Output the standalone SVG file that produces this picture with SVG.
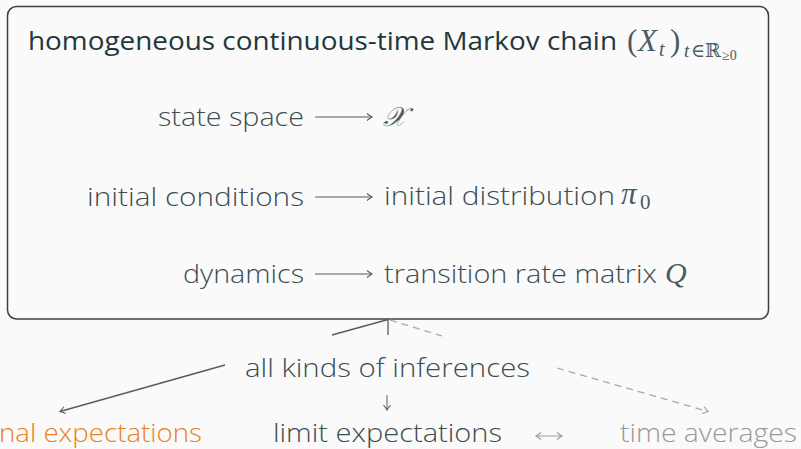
<svg xmlns="http://www.w3.org/2000/svg" width="801" height="449" viewBox="0 0 801 449">
<style>
.bg{fill:#fafafa}
.box{fill:#fafafa;stroke:#3f3f3f;stroke-width:1.5}
.ttl{font-family:"Open Sans","Noto Sans","Liberation Sans",sans-serif;font-size:26px;fill:#23373b;font-weight:400}
.txt{font-family:"Open Sans","Noto Sans","Liberation Sans",sans-serif;font-size:26px;fill:#3b4d51;font-weight:300}
.math{font-family:"Liberation Serif","DejaVu Serif",serif;fill:#4a5c60;font-weight:400}
.it{font-style:italic}
.orange{fill:#eb811b}
.gray{fill:#999}
.ln{fill:none;stroke:#4f5f63;stroke-width:1.3}
.dash{fill:none;stroke:#a8a8a8;stroke-width:1.3;stroke-dasharray:7 5}
.ar{fill:none;stroke:#4f5f63;stroke-width:1}
.arg{fill:none;stroke:#9a9a9a;stroke-width:1}
</style>
<defs>
<marker id="tip" markerUnits="userSpaceOnUse" markerWidth="12" markerHeight="12" refX="0" refY="0" viewBox="-8 -6 10 12" orient="auto">
<path d="M-5,-3.5 Q-1.5,-0.8 0,0 Q-1.5,0.8 -5,3.5" fill="none" stroke="#4f5f63" stroke-width="1.1"/>
</marker>
<marker id="tipg" markerUnits="userSpaceOnUse" markerWidth="12" markerHeight="12" refX="0" refY="0" viewBox="-8 -6 10 12" orient="auto">
<path d="M-5,-3.5 Q-1.5,-0.8 0,0 Q-1.5,0.8 -5,3.5" fill="none" stroke="#9a9a9a" stroke-width="1.1"/>
</marker>
<marker id="tipgs" markerUnits="userSpaceOnUse" markerWidth="12" markerHeight="12" refX="0" refY="0" viewBox="-8 -6 10 12" orient="auto-start-reverse">
<path d="M-5,-3.5 Q-1.5,-0.8 0,0 Q-1.5,0.8 -5,3.5" fill="none" stroke="#9a9a9a" stroke-width="1.1"/>
</marker>
</defs>
<rect class="bg" x="0" y="0" width="801" height="449"/>

<g id="chain">
<rect class="box" x="7.5" y="6.5" width="761" height="312.5" rx="9"/>
<text class="ttl" x="28" y="50" textLength="589" lengthAdjust="spacingAndGlyphs">homogeneous continuous-time Markov chain</text>
<text class="math" font-size="31"><tspan x="627" y="51">(</tspan><tspan class="it" x="638" y="51">X</tspan><tspan class="it" x="659" y="56" font-size="20">t</tspan><tspan x="670" y="51">)</tspan></text>
<text class="math" font-size="19"><tspan class="it" x="684" y="57">t</tspan><tspan x="691" y="57">∈ℝ</tspan><tspan x="722" y="60" font-size="14">≥0</tspan></text>
</g>

<g id="state">
<text class="txt" x="158" y="126" textLength="146" lengthAdjust="spacingAndGlyphs">state space</text>
<text class="math it" x="383" y="126" font-size="27" font-family="'DejaVu Serif',serif">𝒳</text>
</g>

<g id="initial">
<text class="txt" x="87" y="206" textLength="217" lengthAdjust="spacingAndGlyphs">initial conditions</text>
<text class="txt" x="384" y="205" textLength="231" lengthAdjust="spacingAndGlyphs">initial distribution</text>
<text class="math" font-size="31"><tspan class="it" x="621" y="204">π</tspan><tspan x="640" y="209" font-size="21">0</tspan></text>
</g>

<g id="dynamics">
<text class="txt" x="183" y="283" textLength="121" lengthAdjust="spacingAndGlyphs">dynamics</text>
<text class="txt" x="384" y="283" textLength="273" lengthAdjust="spacingAndGlyphs">transition rate matrix</text>
<text class="math it" x="665" y="283" font-size="30">Q</text>
</g>

<g id="inferences">
<text class="txt" x="245" y="377" textLength="285" lengthAdjust="spacingAndGlyphs">all kinds of inferences</text>
</g>

<g id="conditional">
<text class="txt orange" x="-1" y="442" textLength="203" lengthAdjust="spacingAndGlyphs">nal expectations</text>
</g>

<g id="limit">
<text class="txt" x="273" y="442" textLength="229" lengthAdjust="spacingAndGlyphs">limit expectations</text>
</g>

<g id="time">
<text class="txt gray" x="620" y="442" textLength="177" lengthAdjust="spacingAndGlyphs">time averages</text>
</g>

<g id="connectors">
<path class="ar" d="M315,117 H372" marker-end="url(#tip)"/>
<path class="ar" d="M315,197 H372" marker-end="url(#tip)"/>
<path class="ar" d="M315,274 H372" marker-end="url(#tip)"/>
<path class="ln" d="M332,335 L388,319.5"/>
<path class="ln" d="M388,319.5 V335"/>
<path class="dash" d="M390,320 L442,336"/>
<path class="ln" d="M225,365 L60,411.5" marker-end="url(#tip)"/>
<path class="ar" d="M387,395 V410" marker-end="url(#tip)"/>
<path class="dash" d="M557,368 L708,411.5" marker-end="url(#tipg)"/>
<path class="arg" d="M536,436 H562" marker-start="url(#tipgs)" marker-end="url(#tipg)"/>
</g>
</svg>
